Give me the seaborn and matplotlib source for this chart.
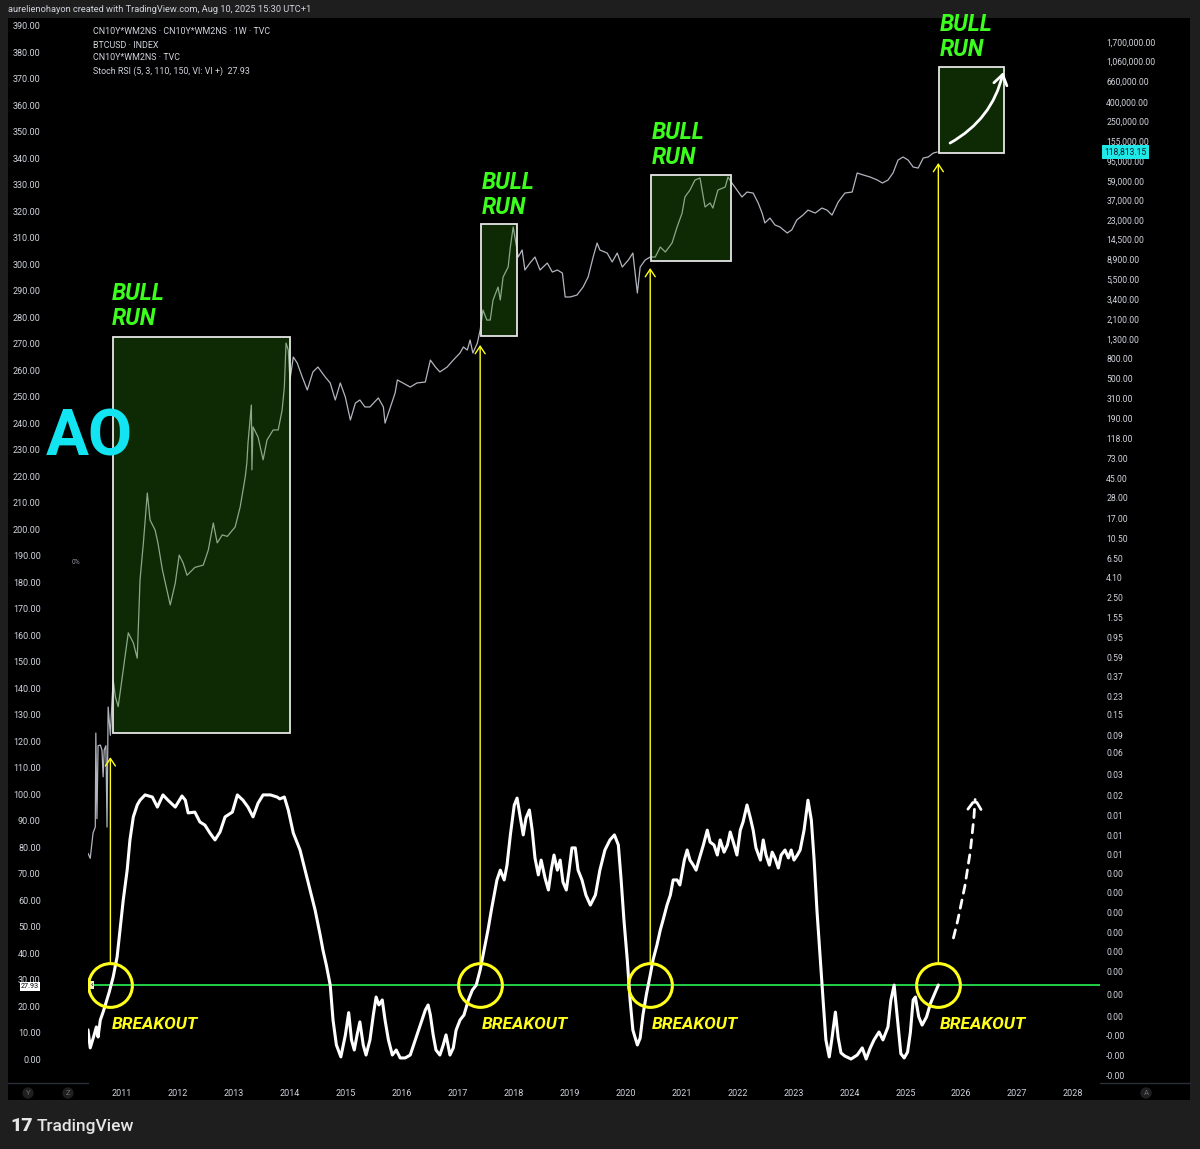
"""BTC weekly chart with Stoch RSI breakouts, TradingView dark style."""

import matplotlib

matplotlib.use("Agg")

import matplotlib.pyplot as plt
import pandas as pd
import seaborn as sns
from matplotlib.patches import Rectangle
from matplotlib.ticker import NullLocator

# ---- data -------------------------------------------------------------------
btc_year = [
    2010.39, 2010.43, 2010.48, 2010.52, 2010.53, 2010.55, 2010.57, 2010.61, 2010.64, 2010.66,
    2010.68, 2010.71, 2010.73, 2010.75, 2010.79, 2010.82, 2010.84, 2010.88, 2010.93, 2011.02,
    2011.11, 2011.20, 2011.27, 2011.32, 2011.38, 2011.45, 2011.50, 2011.59, 2011.64, 2011.72,
    2011.80, 2011.86, 2011.95, 2012.02, 2012.09, 2012.16, 2012.30, 2012.45, 2012.54, 2012.63,
    2012.70, 2012.79, 2012.88, 2013.02, 2013.11, 2013.20, 2013.23, 2013.25, 2013.31, 2013.32,
    2013.34, 2013.43, 2013.52, 2013.59, 2013.70, 2013.79, 2013.86, 2013.90, 2013.93, 2013.97,
    2014.00, 2014.06, 2014.13, 2014.22, 2014.31, 2014.41, 2014.50, 2014.63, 2014.72, 2014.81,
    2014.90, 2014.99, 2015.08, 2015.17, 2015.25, 2015.34, 2015.43, 2015.58, 2015.67, 2015.70,
    2015.79, 2015.88, 2015.92, 2016.02, 2016.15, 2016.27, 2016.42, 2016.51, 2016.60, 2016.68,
    2016.81, 2016.92, 2017.04, 2017.10, 2017.17, 2017.22, 2017.27, 2017.35, 2017.40, 2017.45,
    2017.52, 2017.58, 2017.63, 2017.72, 2017.76, 2017.81, 2017.90, 2017.94, 2017.99, 2018.03,
    2018.08, 2018.15, 2018.20, 2018.29, 2018.38, 2018.47, 2018.60, 2018.69, 2018.78, 2018.87,
    2018.92, 2019.01, 2019.13, 2019.24, 2019.33, 2019.42, 2019.49, 2019.54, 2019.67, 2019.76,
    2019.85, 2019.94, 2020.05, 2020.13, 2020.21, 2020.26, 2020.35, 2020.44, 2020.53, 2020.62,
    2020.71, 2020.83, 2020.92, 2021.01, 2021.06, 2021.15, 2021.24, 2021.33, 2021.42, 2021.51,
    2021.56, 2021.65, 2021.78, 2021.83, 2021.90, 2021.99, 2022.08, 2022.17, 2022.28, 2022.37,
    2022.44, 2022.49, 2022.58, 2022.67, 2022.76, 2022.89, 2022.97, 2023.06, 2023.17, 2023.26,
    2023.39, 2023.51, 2023.60, 2023.69, 2023.80, 2023.92, 2024.05, 2024.14, 2024.25, 2024.37,
    2024.50, 2024.59, 2024.69, 2024.78, 2024.87, 2024.96, 2025.05, 2025.14, 2025.23, 2025.32,
    2025.41, 2025.50, 2025.57,
]
btc_price = [
    0.0052, 0.0046, 0.0085, 0.0098, 0.095, 0.012, 0.07, 0.071, 0.063, 0.033,
    0.063, 0.07, 0.0098, 0.178, 0.09, 0.211, 0.343, 0.227, 0.18, 0.436,
    1.07, 0.84, 0.58, 3.84, 9.4, 31.4, 16.3, 12.8, 9.4, 4.9,
    3.0, 2.1, 3.56, 7.0, 5.8, 4.3, 5.2, 5.5, 7.9, 15.2,
    9.4, 11.4, 11.0, 13.8, 22.4, 46, 65, 105, 263, 55,
    155, 121, 70, 113, 144, 144, 233, 406, 1177, 993,
    482, 839, 726, 518, 378, 585, 659, 518, 448, 297,
    448, 319, 183, 276, 297, 251, 251, 312, 251, 170,
    245, 352, 482, 448, 406, 448, 459, 780, 659, 585,
    659, 780, 925, 1069, 993, 1265, 925, 1177, 1610, 2612,
    2050, 2050, 3325, 4550, 3325, 5800, 7380, 11970, 19400, 14190,
    9400, 11140, 6870, 8130, 9400, 6870, 8130, 6540, 6870, 6380,
    3580, 3580, 3750, 4550, 5800, 9400, 13180, 11140, 10350, 8340,
    10350, 7380, 8750, 10350, 3940, 7380, 8750, 9400, 9400, 11970,
    10610, 13180, 19400, 27200, 40100, 47400, 60400, 63400, 31500, 34700,
    30700, 47400, 51000, 65000, 56200, 47400, 40100, 45200, 44100, 34700,
    27200, 21400, 24100, 20400, 19400, 16800, 18100, 23000, 25900, 29200,
    27200, 30700, 29200, 25900, 35500, 44100, 45200, 71600, 68200, 65000,
    60400, 56200, 60400, 71600, 97900, 105400, 97900, 82700, 80700, 102800,
    105400, 116000, 118813.15,
]

rsi_year = [
    2010.39, 2010.43, 2010.50, 2010.54, 2010.57, 2010.61, 2010.66, 2010.70, 2010.77, 2010.84,
    2010.91, 2011.02, 2011.09, 2011.14, 2011.20, 2011.27, 2011.32, 2011.41, 2011.54, 2011.63,
    2011.73, 2011.82, 2011.95, 2012.07, 2012.13, 2012.18, 2012.30, 2012.39, 2012.48, 2012.57,
    2012.66, 2012.75, 2012.84, 2012.97, 2013.06, 2013.16, 2013.25, 2013.34, 2013.43, 2013.52,
    2013.65, 2013.77, 2013.82, 2013.90, 2013.97, 2014.06, 2014.18, 2014.27, 2014.36, 2014.45,
    2014.54, 2014.59, 2014.65, 2014.72, 2014.77, 2014.83, 2014.91, 2014.99, 2015.05, 2015.10,
    2015.15, 2015.20, 2015.25, 2015.31, 2015.36, 2015.43, 2015.49, 2015.54, 2015.59, 2015.65,
    2015.70, 2015.76, 2015.83, 2015.90, 2015.97, 2016.06, 2016.15, 2016.24, 2016.33, 2016.42,
    2016.47, 2016.51, 2016.56, 2016.61, 2016.68, 2016.74, 2016.79, 2016.86, 2016.92, 2016.97,
    2017.04, 2017.11, 2017.19, 2017.26, 2017.33, 2017.40, 2017.47, 2017.54, 2017.60, 2017.65,
    2017.70, 2017.76, 2017.83, 2017.88, 2017.94, 2018.01, 2018.06, 2018.11, 2018.17, 2018.22,
    2018.28, 2018.33, 2018.38, 2018.44, 2018.49, 2018.56, 2018.62, 2018.67, 2018.72, 2018.78,
    2018.83, 2018.88, 2018.94, 2018.99, 2019.04, 2019.10, 2019.15, 2019.22, 2019.29, 2019.37,
    2019.46, 2019.54, 2019.63, 2019.72, 2019.80, 2019.87, 2019.92, 2019.97, 2020.03, 2020.08,
    2020.13, 2020.21, 2020.26, 2020.31, 2020.37, 2020.44, 2020.49, 2020.56, 2020.62, 2020.67,
    2020.74, 2020.80, 2020.85, 2020.92, 2020.97, 2021.05, 2021.10, 2021.15, 2021.21, 2021.26,
    2021.31, 2021.39, 2021.46, 2021.51, 2021.58, 2021.64, 2021.69, 2021.76, 2021.82, 2021.87,
    2021.94, 2021.99, 2022.05, 2022.10, 2022.17, 2022.23, 2022.28, 2022.33, 2022.41, 2022.46,
    2022.51, 2022.57, 2022.62, 2022.67, 2022.73, 2022.78, 2022.85, 2022.91, 2022.96, 2023.01,
    2023.07, 2023.12, 2023.19, 2023.26, 2023.32, 2023.37, 2023.42, 2023.48, 2023.53, 2023.58,
    2023.64, 2023.69, 2023.75, 2023.80, 2023.85, 2023.92, 2024.03, 2024.14, 2024.23, 2024.30,
    2024.37, 2024.44, 2024.53, 2024.60, 2024.69, 2024.74, 2024.80, 2024.86, 2024.92, 2024.98,
    2025.04, 2025.09, 2025.14, 2025.18, 2025.24, 2025.30, 2025.38, 2025.45, 2025.52, 2025.59,
]
rsi_value = [
    11.0, 4.2, 9.1, 12.1, 8.3, 14.7, 17.7, 20.4, 25.3, 31.0,
    38.5, 60.0, 71.3, 82.7, 91.4, 95.9, 97.7, 99.7, 98.9, 95.1,
    99.7, 97.7, 95.1, 99.3, 97.7, 92.9, 93.2, 89.5, 88.3, 85.3,
    82.7, 85.7, 91.4, 93.2, 99.7, 97.7, 95.1, 91.4, 96.6, 99.7,
    99.7, 98.9, 98.2, 98.9, 94.0, 85.3, 78.9, 71.3, 63.8, 56.2,
    46.8, 41.1, 35.5, 27.9, 14.7, 5.3, 0.8, 9.0, 17.5, 7.2,
    3.4, 9.1, 14.0, 5.3, 1.5, 7.2, 16.6, 23.4, 20.4, 22.3,
    14.7, 7.2, 1.5, 3.4, 0.4, 0.4, 1.5, 7.2, 12.8, 18.5,
    20.4, 16.6, 9.1, 3.4, 1.5, 5.3, 9.1, 1.5, 4.2, 10.9,
    14.7, 16.6, 22.3, 26.0, 27.9, 33.6, 41.1, 48.7, 56.2, 61.9,
    67.6, 71.3, 67.6, 73.2, 84.6, 95.9, 98.5, 92.1, 84.6, 91.0,
    94.0, 86.4, 75.9, 69.5, 75.1, 68.3, 63.8, 71.3, 77.0, 71.3,
    75.1, 66.8, 63.8, 71.3, 79.7, 79.7, 71.3, 67.6, 61.9, 58.1,
    61.9, 71.3, 78.9, 82.7, 84.6, 80.8, 67.6, 52.5, 37.4, 22.3,
    10.9, 5.3, 7.9, 16.6, 24.2, 31.7, 37.4, 43.0, 48.7, 52.5,
    58.1, 61.9, 67.6, 67.6, 65.7, 75.1, 78.9, 75.1, 73.2, 71.3,
    75.1, 80.8, 86.4, 81.9, 80.8, 77.0, 82.7, 78.1, 80.8, 85.7,
    80.8, 77.0, 86.4, 89.5, 95.9, 91.0, 86.4, 79.7, 75.1, 82.7,
    77.0, 73.2, 78.1, 75.9, 72.1, 77.0, 78.9, 75.9, 78.9, 75.1,
    77.0, 78.9, 86.4, 97.7, 90.2, 75.1, 56.2, 37.4, 22.3, 7.2,
    0.8, 8.0, 17.7, 8.0, 2.3, 1.1, 0.0, 1.5, 4.2, 0.0,
    4.0, 7.2, 10.2, 7.2, 12.1, 22.0, 27.9, 15.0, 2.0, 0.4,
    2.6, 10.0, 22.3, 23.4, 15.9, 12.8, 15.9, 21.0, 24.5, 27.93,
]

breakout_level = 27.93
breakout_year = [2010.79, 2017.40, 2020.44, 2025.59]
arrow_tip_price = [0.053, 1122, 7210, 91200]
arrow_base_rsi = 36.6

box_start = [2010.84, 2017.42, 2020.46, 2025.60]
box_end = [2014.00, 2018.06, 2021.89, 2026.77]
box_low = [0.095, 1393, 8530, 116000]
box_high = [1360, 20900, 68200, 927000]
bull_label_rsi = [275.2, 317.1, 336.0, 376.7]

year_ticks = list(range(2011, 2029))
year_labels = [str(y) for y in year_ticks]
left_ticks = list(range(0, 400, 10))

right_tick_values = [
    1700000, 1060000, 660000, 400000, 250000, 155000, 95000, 59000, 37000, 23000,
    14500, 8900, 5500, 3400, 2100, 1300, 800, 500, 310, 190,
    118, 73, 45, 28, 17, 10.5, 6.5, 4.1, 2.5, 1.55,
    0.95, 0.59, 0.37, 0.23, 0.15, 0.09, 0.06, 0.035, 0.021, 0.013,
    0.008, 0.005, 0.0032, 0.002, 0.00125, 0.00077, 0.00048, 0.0003, 0.00017, 0.0001,
    0.000063, 0.000039, 0.0000245,
]
right_tick_labels = [
    "1,700,000.00", "1,060,000.00", "660,000.00", "400,000.00", "250,000.00",
    "155,000.00", "95,000.00", "59,000.00", "37,000.00", "23,000.00",
    "14,500.00", "8,900.00", "5,500.00", "3,400.00", "2,100.00", "1,300.00",
    "800.00", "500.00", "310.00", "190.00", "118.00", "73.00", "45.00", "28.00",
    "17.00", "10.50", "6.50", "4.10", "2.50", "1.55", "0.95", "0.59", "0.37",
    "0.23", "0.15", "0.09", "0.06", "0.03", "0.02", "0.01", "0.01", "0.01",
    "0.00", "0.00", "0.00", "0.00", "0.00", "0.00", "0.00", "0.00",
    "-0.00", "-0.00", "-0.00",
]

legend_lines = [
    "CN10Y*WM2NS · CN10Y*WM2NS · 1W · TVC",
    "BTCUSD · INDEX",
    "CN10Y*WM2NS · TVC",
    f"Stoch RSI (5, 3, 110, 150, VI: VI +)  {breakout_level:.2f}",
]

# ---- style -------------------------------------------------------------------
sns.set_theme(style="dark")
plt.rcParams["font.family"] = ["Roboto", "DejaVu Sans"]

FRAME = "#1e1e1e"
TXT = "#d1d4dc"
YELLOW = "#ffff1a"
GREEN_TXT = "#3cff1e"
W, H = 1200, 1149


def fx(px):
    return px / W


def fy(py):
    return 1 - py / H


fig = plt.figure(figsize=(12, 11.49), dpi=100, facecolor=FRAME)
fig.add_artist(Rectangle((fx(8), fy(1100)), fx(1190) - fx(8), fy(18) - fy(1100),
                         transform=fig.transFigure, facecolor="black",
                         edgecolor="none", zorder=-5))
for x0, x1 in [(8, 88), (1100, 1190)]:
    fig.add_artist(plt.Line2D([fx(x0), fx(x1)], [fy(1083), fy(1083)],
                              transform=fig.transFigure, color="#2a2e39", lw=1))

ax = fig.add_axes([fx(88), fy(1083), fx(1100) - fx(88), fy(18) - fy(1083)])
ax.set_facecolor("black")
ax.set_xlim(2010.39, 2028.48)
ax.set_ylim(-9.06, 393.0)

rsi = pd.DataFrame({"year": rsi_year, "value": rsi_value})
sns.lineplot(data=rsi, x="year", y="value", ax=ax, color="white", lw=2.2,
             sort=False, estimator=None, zorder=4)
ax.axhline(breakout_level, color="#22d046", lw=1.4, zorder=3)

# breakout circles and labels
ax.plot(breakout_year, [breakout_level] * len(breakout_year), "o", ms=31.5,
        mfc="none", mec=YELLOW, mew=2.2, zorder=6)
for yr in breakout_year:
    ax.text(yr + 0.03, 11.3, "BREAKOUT", color=YELLOW, fontsize=12.5,
            fontweight="bold", fontstyle="italic", va="baseline", ha="left", zorder=6)
for x0, v in zip(breakout_year, bull_label_rsi):
    ax.text(x0 + 0.02, v, "BULL\nRUN", color=GREEN_TXT, fontsize=16.5,
            fontweight="bold", fontstyle="italic", va="bottom", ha="left",
            linespacing=1.1, zorder=6)

# dashed "next" arrow
ax.annotate("", xy=(2026.25, 98.9), xytext=(2025.86, 45.7),
            arrowprops=dict(arrowstyle="->,head_length=0.6,head_width=0.4",
                            color="white", lw=2, ls=(0, (3, 2.5)),
                            connectionstyle="arc3,rad=0.05",
                            shrinkA=0, shrinkB=0))

# price on log scale
ax2 = ax.twinx()
ax2.set_yscale("log")
sns.lineplot(x=btc_year, y=btc_price, ax=ax2, color="#b2b5be", lw=0.9,
             sort=False, estimator=None, zorder=2)
ax2.set_ylim(2.02e-5, 3.03e6)

for x0, x1, p0, p1 in zip(box_start, box_end, box_low, box_high):
    ax2.add_patch(Rectangle((x0, p0), x1 - x0, p1 - p0,
                            facecolor=(0.18, 0.55, 0.07, 0.3),
                            edgecolor="#e6e6e6", lw=1.3, zorder=3))

for yr, tip in zip(breakout_year, arrow_tip_price):
    ax2.annotate("", xy=(yr, tip), xycoords="data",
                 xytext=(yr, arrow_base_rsi), textcoords=ax.transData,
                 arrowprops=dict(arrowstyle="->,head_length=0.45,head_width=0.3",
                                 color=YELLOW, lw=1.0, shrinkA=0, shrinkB=0),
                 zorder=5)

ax2.annotate("", xy=(2026.75, 820000), xytext=(2025.80, 147600),
             arrowprops=dict(arrowstyle="->,head_length=0.6,head_width=0.4",
                             color="white", lw=2,
                             connectionstyle="arc3,rad=0.22",
                             shrinkA=0, shrinkB=0), zorder=6)

# ticks
ax.set_xticks(year_ticks)
ax.set_xticklabels(year_labels)
ax.set_yticks(left_ticks)
ax.set_yticklabels([f"{v:.2f}" for v in left_ticks])
ax.tick_params(axis="x", length=0, pad=4.5, labelsize=6.5, labelcolor=TXT)
ax.tick_params(axis="y", length=0, pad=34, labelsize=6.5, labelcolor=TXT)
ax2.set_yticks(right_tick_values)
ax2.set_yticklabels(right_tick_labels)
ax2.yaxis.set_minor_locator(NullLocator())
ax2.tick_params(axis="y", which="both", length=0, pad=4.5, labelsize=6.2,
                labelcolor=TXT)
for a in (ax, ax2):
    a.set_xlabel("")
    a.set_ylabel("")
    a.grid(False)
    for s in a.spines.values():
        s.set_visible(False)

# price / indicator value tags
ax2.annotate(f"{btc_price[-1]:,.2f}", xy=(1.0, btc_price[-1]),
             xycoords=("axes fraction", "data"), xytext=(3, 0),
             textcoords="offset points", ha="left", va="center", fontsize=6.2,
             color="#0b1a1f", annotation_clip=False, zorder=10,
             bbox=dict(boxstyle="square,pad=0.25", fc="#1ee8e8", ec="none"))
ax.annotate(f"{breakout_level:.2f}", xy=(0.0, breakout_level),
            xycoords=("axes fraction", "data"), xytext=(-42, -1),
            textcoords="offset points", ha="center", va="center", fontsize=5.2,
            color="black", annotation_clip=False,
            bbox=dict(boxstyle="square,pad=0.15", fc="white", ec="none"))
ax.annotate("‹", xy=(0.0, breakout_level), xycoords=("axes fraction", "data"),
            xytext=(3, 0), textcoords="offset points", ha="center", va="center",
            fontsize=6, color="black", annotation_clip=False,
            bbox=dict(boxstyle="square,pad=0.1", fc="#f0f0c0", ec="none"))

# header, legend, watermark, footer
fig.text(fx(8), fy(10), "aurelienohayon created with TradingView.com, Aug 10, 2025 15:30 UTC+1",
         fontsize=6.7, color=TXT, va="center", ha="left")
for i, line in enumerate(legend_lines):
    fig.text(fx(93), fy(32 + 13 * i), line, fontsize=6.4, color=TXT,
             va="center", ha="left")
fig.text(fx(46), fy(455), "AO", fontsize=46, fontweight="bold", color="#12e4f2",
         va="baseline", ha="left")
fig.text(fx(72), fy(562), "0%", fontsize=4.8, color="#9598a1", va="center")

for label, px in [("Y", 28), ("Z", 68), ("A", 1146)]:
    fig.text(fx(px), fy(1093), label, fontsize=5.5, color="#6a6d78", ha="center",
             va="center", bbox=dict(boxstyle="circle,pad=0.35", fc="#1f1f1f", ec="none"))

fig.text(fx(10), fy(1126), "17", fontsize=14, fontweight="black", color="#e6e6e6",
         va="center", ha="left")
fig.text(fx(37), fy(1126), "TradingView", fontsize=12.5, fontweight="medium",
         color="#e6e6e6", va="center", ha="left")

fig.savefig("out.png", dpi=100, facecolor=FRAME)
